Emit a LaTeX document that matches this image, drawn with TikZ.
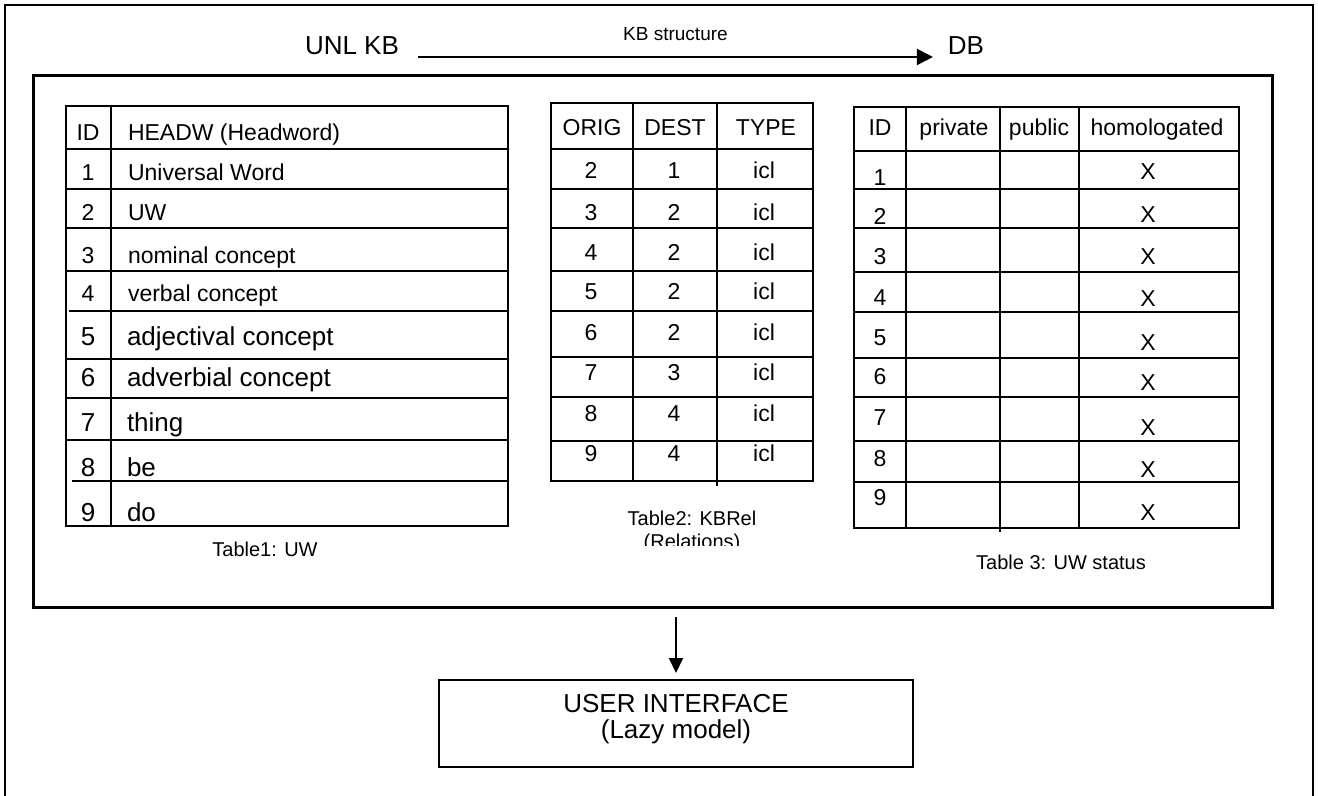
\documentclass[tikz,border=0pt]{standalone}
\usepackage{fontspec}
\setmainfont{Liberation Sans}
\usetikzlibrary{arrows.meta,calc}
\newcommand\myfA{\fontsize{11.5}{13.8}\selectfont}
\newcommand\myfB{\fontsize{13}{15.6}\selectfont}
\newcommand\myfC{\fontsize{10}{11.5}\selectfont}
\newcommand\myfD{\fontsize{9.5}{11}\selectfont}
\newcommand\myfT{\fontsize{13}{15.6}\selectfont}
\begin{document}
\begin{tikzpicture}[x=0.5pt,y=-0.5pt,
  txt/.style={inner sep=0pt, outer sep=0pt, anchor=base},
  txtw/.style={inner sep=0pt, outer sep=0pt, anchor=base west},
  tl/.style={line width=1pt},
  frameline/.style={line width=0.9pt},
  boxstyle/.style={draw, rectangle, inner sep=0pt, outer sep=0pt},
  arr/.style={line width=1pt, -{Triangle[length=8pt, width=8pt]}},
  arrb/.style={line width=1pt, -{Triangle[length=7.5pt, width=7pt]}}
]
\useasboundingbox (0,0) rectangle (1318,796);

% outer frame (open at the bottom)
\draw[frameline] (5,796) -- (5,5) -- (1313,5) -- (1313,796);

% title
\node[txt, font=\myfT] (unl) at (352,55) {UNL KB};
\node[txt, font=\myfT] (db) at (966,55) {DB};
\draw[arr] ($(unl.base east)+(19,2)$) -- node[midway, above=7.5pt, inner sep=0pt, font=\myfD] (kbs) {KB structure} ($(db.base west)+(-15,2)$);

% inner box
\node[boxstyle, line width=1.5pt, minimum width=619.5pt, minimum height=266pt] (kb) at (652.5,342) {};

% ---------- Table 1 ----------
\draw[tl] (66,106) rectangle (508,526);
\draw[tl] (111,106) -- (111,526);
\foreach \y in {149,189,228,271,359,398,440} \draw[tl] (66,\y) -- (508,\y);
\draw[tl] (69,311) -- (508,311);
\draw[tl] (72,481) -- (508,481);
\node[txt, font=\myfA] (t1h1) at (88,141) {ID};
\node[txtw, font=\myfA] (t1h2) at (128,141) {HEADW (Headword)};
\foreach \i/\yb/\t in {1/181/Universal Word, 2/221/UW, 3/264/nominal concept, 4/302/verbal concept} {
  \node[txt, font=\myfA] (t1id\i) at (88,\yb) {\i};
  \node[txtw, font=\myfA] (t1w\i) at (128,\yb) {\t};
}
\foreach \i/\yb/\t in {5/346/adjectival concept, 6/387/adverbial concept, 7/432/thing, 8/477/be, 9/522/do} {
  \node[txt, font=\myfB] (t1id\i) at (88,\yb) {\i};
  \node[txtw, font=\myfB] (t1w\i) at (127,\yb) {\t};
}
\node[txt, font=\myfC] (cap1) at (265,557) {Table1: UW};

% ---------- Table 2 ----------
\draw[tl] (551,103) rectangle (813,481);
\draw[tl] (633,103) -- (633,481);
\draw[tl] (717,103) -- (717,486);
\foreach \y in {149,189,228,271,311,357,397,441} \draw[tl] (551,\y) -- (813,\y);
\node[txt, font=\myfA] (t2h1) at (592,136) {ORIG};
\node[txt, font=\myfA] (t2h2) at (675,136) {DEST};
\node[txt, font=\myfA] (t2h3) at (766,136) {TYPE};
\foreach \i/\o/\d/\yb in {1/2/1/179, 2/3/2/221, 3/4/2/261, 4/5/2/300, 5/6/2/341, 6/7/3/381, 7/8/4/422, 8/9/4/462} {
  \node[txt, font=\myfA] (t2o\i) at (591,\yb) {\o};
  \node[txt, font=\myfA] (t2d\i) at (674,\yb) {\d};
  \node[txt, font=\myfA] (t2t\i) at (764,\yb) {icl};
}
\node[txt, font=\myfC] (cap2) at (692,526) {Table2: KBRel};
\begin{scope}
  \clip (600,500) rectangle (800,546);
  \node[txt, font=\myfC] (cap2b) at (692,549) {(Relations)};
\end{scope}

% ---------- Table 3 ----------
\draw[tl] (854,107) rectangle (1239,528);
\draw[tl] (906,107) -- (906,528);
\draw[tl] (1000,107) -- (1000,532);
\draw[tl] (1079,107) -- (1079,528);
\foreach \y in {151,189,228,272,312,358,397,441,482} \draw[tl] (854,\y) -- (1239,\y);
\node[txt, font=\myfA] (t3h1) at (880,136) {ID};
\node[txt, font=\myfA] (t3h2) at (954,136) {private};
\node[txt, font=\myfA] (t3h3) at (1039,136) {public};
\node[txt, font=\myfA] (t3h4) at (1157,136) {homologated};
\foreach \i/\yd/\yx in {1/186/180, 2/225/223, 3/265/265, 4/306/307, 5/346/351, 6/385/391, 7/426/436, 8/467/478, 9/506/521} {
  \node[txt, font=\myfA] (t3id\i) at (880,\yd) {\i};
  \node[txt, font=\myfA] (t3x\i) at (1148,\yx) {X};
}
\node[txt, font=\myfC] (cap3) at (1061,569) {Table 3: UW status};

% ---------- user interface ----------
\node[boxstyle, line width=1pt, minimum width=237pt, minimum height=43.5pt] (ui) at (676,723.5) {};
\node[txt, font=\myfT] (ui1) at (676,712) {USER INTERFACE};
\node[txt, font=\myfT] (ui2) at (676,738) {(Lazy model)};
\draw[arrb, shorten >=3.5pt] ($(kb.south -| ui.north)+(0,9)$) -- (ui.north);
\end{tikzpicture}
\end{document}
